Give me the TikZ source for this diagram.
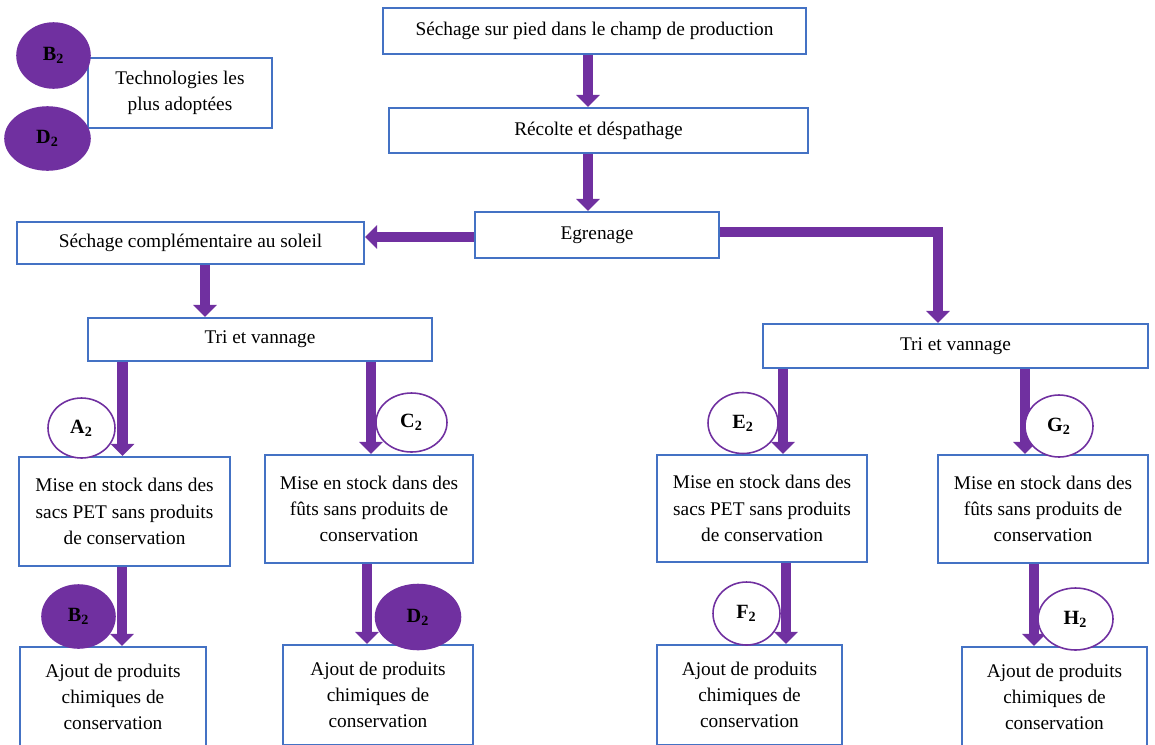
\documentclass[tikz,border=0pt]{standalone}
\usepackage{fontspec}
\setmainfont{Liberation Serif}
\usetikzlibrary{arrows.meta,shapes.geometric}
\definecolor{techpurple}{HTML}{7030A0}
\definecolor{boxblue}{HTML}{4472C4}

\begin{document}
\begin{tikzpicture}[x=0.02cm,y=-0.02cm,
    box/.style={draw=boxblue,line width=1.2pt,fill=white,align=center,inner sep=0pt,
      font=\fontsize{11}{15}\selectfont},
    flow/.style={draw=techpurple,line width=5.8pt,-{Triangle[width=0.46cm,length=0.24cm]}},
    techopen/.style={ellipse,draw=techpurple,line width=0.9pt,fill=white,inner sep=0pt,
      font=\bfseries\fontsize{11.5}{13}\selectfont},
    techfull/.style={techopen,fill=techpurple}]
    \clip (0,0) rectangle (1155,744);
    % legend
    \node[box,minimum width=3.68cm,minimum height=1.40cm] (legend) at (180,93)
      {Technologies les\\plus adoptées};
    \node[techfull,minimum width=1.46cm,minimum height=1.30cm] (legB) at (53.5,55.5) {B\textsubscript{2}};
    \node[techfull,minimum width=1.70cm,minimum height=1.26cm] (legD) at (47.5,138.5) {D\textsubscript{2}};
    % main chain
    \node[box,minimum width=8.46cm,minimum height=0.92cm] (top) at (594.5,31)
      {Séchage sur pied dans le champ de production};
    \node[box,minimum width=8.38cm,minimum height=0.90cm] (recolte) at (598.5,130.5)
      {Récolte et déspathage};
    \node[box,minimum width=4.88cm,minimum height=0.92cm] (egren) at (597,235) {Egrenage};
    \node[box,minimum width=6.94cm,minimum height=0.84cm] (sechcomp) at (190.5,243)
      {Séchage complémentaire au soleil};
    \node[box,minimum width=6.88cm,minimum height=0.86cm] (triL) at (260,339.5) {Tri et vannage};
    \node[box,minimum width=7.70cm,minimum height=0.88cm] (triR) at (955.5,346) {Tri et vannage};
    % storage
    \node[box,minimum width=4.22cm,minimum height=2.18cm] (mise1) at (124.5,511.5)
      {Mise en stock dans des\\sacs PET sans produits\\de conservation};
    \node[box,minimum width=4.16cm,minimum height=2.16cm] (mise2) at (369,509)
      {Mise en stock dans des\\fûts sans produits de\\conservation};
    \node[box,minimum width=4.20cm,minimum height=2.14cm] (mise3) at (762,508.5)
      {Mise en stock dans des\\sacs PET sans produits\\de conservation};
    \node[box,minimum width=4.20cm,minimum height=2.16cm] (mise4) at (1043,509)
      {Mise en stock dans des\\fûts sans produits de\\conservation};
    % chemicals
    \node[box,minimum width=3.72cm,minimum height=2.00cm] (ajout1) at (113,697)
      {Ajout de produits\\chimiques de\\conservation};
    \node[box,minimum width=3.80cm,minimum height=2.00cm] (ajout2) at (378,695)
      {Ajout de produits\\chimiques de\\conservation};
    \node[box,minimum width=3.70cm,minimum height=2.00cm] (ajout3) at (749.5,695)
      {Ajout de produits\\chimiques de\\conservation};
    \node[box,minimum width=3.70cm,minimum height=2.00cm] (ajout4) at (1054.5,697)
      {Ajout de produits\\chimiques de\\conservation};
    % arrows
    \coordinate (bend) at (938,232);
    \draw[flow] (top.south -| 588,0) -- (recolte.north -| 588,0);
    \draw[flow] (recolte.south -| 588,0) -- (egren.north -| 588,0);
    \draw[flow] (egren.west |- 0,237) -- (sechcomp.east |- 0,237);
    \draw[flow] (egren.east |- bend) -| (triR.north -| bend);
    \draw[flow] (sechcomp.south -| 205,0) -- (triL.north -| 205,0);
    \draw[flow] (triL.south -| 122.5,0) -- (mise1.north -| 122.5,0);
    \draw[flow] (triL.south -| 371,0) -- (mise2.north -| 371,0);
    \draw[flow] (triR.south -| 783,0) -- (mise3.north -| 783,0);
    \draw[flow] (triR.south -| 1025,0) -- (mise4.north -| 1025,0);
    \draw[flow] (mise1.south -| 122,0) -- (ajout1.north -| 122,0);
    \draw[flow] (mise2.south -| 367,0) -- (ajout2.north -| 367,0);
    \draw[flow] (mise3.south -| 786,0) -- (ajout3.north -| 786,0);
    \draw[flow] (mise4.south -| 1034,0) -- (ajout4.north -| 1034,0);
    % technologies
    \node[techopen,minimum width=1.34cm,minimum height=1.20cm] (A2) at (81.5,428) {A\textsubscript{2}};
    \node[techopen,minimum width=1.42cm,minimum height=1.18cm] (C2) at (411.5,422.5) {C\textsubscript{2}};
    \node[techopen,minimum width=1.40cm,minimum height=1.22cm] (E2) at (743,423) {E\textsubscript{2}};
    \node[techopen,minimum width=1.36cm,minimum height=1.24cm] (G2) at (1059,426) {G\textsubscript{2}};
    \node[techfull,minimum width=1.46cm,minimum height=1.26cm] (B2) at (78.5,616.5) {B\textsubscript{2}};
    \node[techfull,minimum width=1.70cm,minimum height=1.30cm] (D2) at (418,617) {D\textsubscript{2}};
    \node[techopen,minimum width=1.34cm,minimum height=1.26cm] (F2) at (746.5,613.5) {F\textsubscript{2}};
    \node[techopen,minimum width=1.50cm,minimum height=1.24cm] (H2) at (1075.5,619) {H\textsubscript{2}};
\end{tikzpicture}
\end{document}
